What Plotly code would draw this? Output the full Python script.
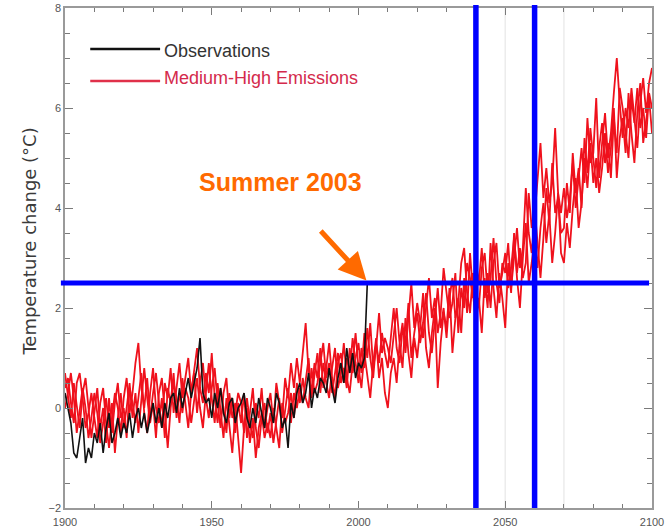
import plotly.graph_objects as go

# ---------------- data ----------------
years_model = list(range(1900, 2101))
years_obs = list(range(1900, 2004))

observations = [
    0.3, 0.0, -0.3, -0.9, -1.0, -0.6, -0.2, -1.1, -0.8, -1.0,
    -0.5, -0.7, -0.3, -0.9, -0.4, -0.1, -0.7, -0.5, -0.2, -0.6,
    -0.3, -0.5, -0.1, -0.6, -0.2, 0.0, -0.4, -0.1, -0.5, -0.2,
    0.1, -0.3, 0.0, -0.4, 0.1, -0.2, 0.2, 0.3, -0.1, 0.4,
    0.0, 0.3, 0.6, 0.2, 0.5, 0.8, 1.4, 0.3, 0.1, 0.2,
    -0.2, 0.3, 0.0, 0.4, -0.1, -0.3, 0.1, 0.2, -0.3, 0.0,
    0.1, 0.3, -0.2, -0.4, 0.0, -0.3, 0.2, -0.1, -0.4, 0.2,
    0.0, -0.3, 0.3, 0.1, -0.4, -0.2, -0.8, 0.1, -0.2, 0.3,
    0.5, 0.1, 0.3, 0.7, 0.0, 0.4, 0.2, 0.6, 0.5, 0.3,
    0.8, 0.4, 0.1, 0.6, 0.9, 0.5, 1.2, 0.7, 1.1, 0.6,
    0.9, 0.8, 1.0, 2.5,
]

run1 = [
    0.4, 0.6, 0.1, -0.3, 0.5, 0.7, 0.2, -0.4, -0.1, 0.3,
    -0.2, -0.6, 0.1, 0.4, -0.3, -0.8, -0.2, 0.3, 0.0, -0.5,
    0.2, 0.6, -0.1, 0.3, 0.9, 1.3, 0.4, 0.0, 0.6, -0.2,
    0.3, 0.7, 0.1, -0.4, 0.5, 0.2, 0.8, -0.1, 0.4, 0.9,
    0.2, 0.6, 1.0, 0.3, 0.8, 1.2, 0.4, 0.1, 0.7, 0.3,
    1.1, 0.2, -0.3, 0.4, 0.0, -0.5, 0.3, -0.2, 0.1, -0.7,
    -1.3, -0.4, 0.2, -0.3, -0.6, 0.1, -0.2, 0.4, -0.4, 0.0,
    0.3, -0.3, 0.5, 0.1, -0.2, 0.6, 0.2, 0.9, 0.4, 1.0,
    0.5, 1.1, 1.7, 0.7, 0.3, 0.9, 0.6, 1.2, 0.4, 0.8,
    1.3, 0.6, 0.2, 0.9, 1.1, 0.5, 1.0, 0.7, 1.4, 0.9,
    0.5, 1.2, 0.8, 1.6, 1.0, 0.6, 1.3, 0.9, 1.5, 1.1,
    0.8, 1.4, 2.0, 1.2, 0.9, 1.6, 1.3, 2.1, 1.0, 1.5,
    1.9, 1.3, 1.7, 2.3, 1.5, 1.1, 1.8, 2.4, 1.6, 2.0,
    1.4, 2.2, 2.6, 1.8, 2.1, 2.9, 3.2, 2.3, 1.9, 2.7,
    2.4, 2.0, 2.8, 3.1, 2.3, 2.6, 3.4, 2.5, 2.1, 2.9,
    2.7, 3.3, 2.4, 3.0, 3.6, 2.8, 3.2, 4.4, 3.5, 3.1,
    3.9, 4.6, 5.3, 4.2, 4.8, 4.1, 4.5, 5.6, 4.3, 3.9,
    4.4, 3.8, 4.2, 4.9, 4.0, 4.6, 5.2, 4.5, 5.8, 4.9,
    5.1, 6.2, 4.6, 5.3, 5.9, 5.0, 5.5, 6.3, 7.0, 6.1,
    5.4, 6.0, 5.6, 6.4, 5.8, 5.2, 6.1, 6.6, 5.9, 6.5,
    6.8,
]

run2 = [
    0.0, 0.3, 0.7, 0.2, -0.5, -0.1, 0.4, 0.0, -0.6, -0.2,
    0.3, -0.1, -0.7, -0.3, 0.2, -0.4, 0.1, -0.9, -0.2, 0.3,
    -0.4, 0.0, 0.5, -0.2, 0.3, -0.5, 0.1, 0.8, 0.2, -0.3,
    0.1, -0.6, 0.3, 0.6, -0.1, -0.8, 0.0, 0.5, 0.2, -0.3,
    0.6, 0.1, -0.4, 0.3, 0.7, -0.1, 0.5, 0.9, 0.2, -0.2,
    0.4, 0.8, 0.1, -0.4, 0.3, 0.6, -0.2, 0.2, -0.5, 0.1,
    -0.3, 0.3, -0.6, -0.1, 0.4, -0.4, -0.8, -0.2, 0.1, -0.5,
    -0.1, -0.7, -0.3, 0.2, -0.5, -0.1, 0.4, -0.3, 0.3, 0.0,
    0.4, 0.1, 0.6, 1.0, 0.2, 0.7, 1.1, 0.3, 0.9, 0.5,
    0.2, 0.8, 1.2, 0.4, 0.7, 1.3, 0.6, 0.3, 0.9, 1.5,
    0.8, 0.4, 1.1, 0.7, 0.2, 0.9, 1.4, 0.6, 1.0, 0.3,
    0.0, 0.7, 1.0, 0.5, 1.3, 0.8, 1.8, 1.1, 0.6, 1.4,
    1.0, 1.6, 2.3, 1.2, 0.8, 1.5, 2.0, 0.4, 1.3, 1.9,
    1.6, 2.4, 1.1, 1.8, 2.2, 1.5, 2.6, 1.9, 3.1, 2.3,
    1.7, 2.2, 1.5, 2.6, 2.0, 3.3, 2.4, 1.8, 2.7, 2.2,
    1.6, 2.9, 2.3, 3.5, 2.6, 2.0, 3.0, 3.7, 2.5, 2.9,
    3.4, 2.8, 3.6, 4.1, 3.3, 3.9, 2.9, 3.5, 4.3, 3.1,
    2.9, 3.7, 3.2, 4.0, 4.6, 3.6, 4.1, 5.0, 4.4, 5.3,
    4.5, 5.0, 4.3, 4.8, 5.5, 4.7, 5.2, 6.0, 4.6, 5.4,
    5.8, 5.1, 6.3, 5.5, 4.9, 5.9, 6.5, 5.3, 5.7, 6.2,
    5.5,
]

run3 = [
    0.7, 0.2, -0.2, 0.5, 0.1, -0.4, 0.3, 0.6, 0.0, -0.6,
    -0.1, 0.4, -0.4, 0.0, -0.7, 0.2, -0.5, 0.1, 0.5, -0.2,
    0.0, -0.6, 0.4, 0.1, -0.3, 0.2, 0.7, -0.1, -0.5, 0.3,
    0.8, 0.0, -0.3, 0.2, -0.6, 0.4, 0.1, 0.7, -0.2, 0.3,
    -0.1, 0.4, 0.2, -0.3, 0.1, 0.6, 0.0, -0.4, 0.3, 0.9,
    0.2, -0.3, 0.5, 0.0, -0.6, 0.2, -0.4, -0.9, -0.1, 0.3,
    0.1, -0.5, 0.0, -0.7, -0.2, -1.0, -0.4, -0.1, -0.6, -0.3,
    -0.6, 0.0, -0.4, -0.8, 0.1, -0.3, -0.1, 0.3, -0.2, 0.5,
    0.1, 0.6, 0.2, 0.0, 0.8, 0.3, 0.5, 0.9, 1.3, 0.6,
    0.9, 0.3, 0.7, 1.1, 0.5, 0.8, 0.4, 1.2, 0.7, 1.0,
    1.3, 0.7, 1.5, 1.0, 1.7, 0.8, 1.2, 1.9, 1.1, 1.4,
    1.2, 0.9, 1.5, 2.0, 1.3, 1.7, 1.1, 1.9, 2.5, 1.6,
    2.1, 1.7, 1.4, 2.0, 2.6, 1.8, 2.2, 1.5, 1.9, 2.8,
    2.3, 1.8, 2.1, 2.7, 1.5, 2.4, 2.0, 2.9, 2.6, 2.2,
    2.9, 2.5, 3.2, 2.2, 2.7, 2.0, 2.9, 3.3, 2.4, 2.7,
    3.1, 2.4, 2.8, 3.4, 2.7, 3.2, 2.6, 2.9, 4.3, 3.6,
    4.0, 3.2, 2.6, 3.4, 4.4, 3.7, 4.9, 3.9, 4.2, 3.5,
    3.6, 4.5, 3.9, 5.1, 4.3, 4.8, 4.0, 5.4, 4.7, 5.6,
    5.0, 4.4, 5.2, 5.7, 4.9, 5.3, 4.6, 5.8, 5.1, 6.4,
    6.0, 5.5, 5.0, 6.2, 5.7, 6.4, 5.6, 6.0, 5.4, 6.3,
    6.0,
]

threshold = 2.5
crossing_years = [2040, 2060]
faint_grid_years = [2050, 2070]
x_ticks = [1900, 1950, 2000, 2050, 2100]
y_ticks = [-2, 0, 2, 4, 6, 8]
legend_labels = ["Observations", "Medium-High Emissions"]
event_label = "Summer 2003"
event_year = 2003
event_value = 2.55

# ---------------- figure ----------------
RED = "#ef111c"
BLUE = "#0000ff"
ORANGE = "#ff6a00"
FONT = "Liberation Sans, Arial, sans-serif"

fig = go.Figure()
for run in (run1, run2, run3):
    fig.add_trace(go.Scatter(x=years_model, y=run, mode="lines",
                             line=dict(color=RED, width=1.8),
                             showlegend=False, hoverinfo="skip"))
fig.add_trace(go.Scatter(x=years_obs, y=observations, mode="lines",
                         line=dict(color="#111111", width=1.6),
                         showlegend=False, hoverinfo="skip"))

shapes = []
for yr in faint_grid_years:
    shapes.append(dict(type="line", xref="x", yref="paper", x0=yr, x1=yr, y0=0, y1=1,
                       line=dict(color="#ececec", width=1.5), layer="below"))
# threshold line
shapes.append(dict(type="line", xref="paper", yref="y", x0=-0.007, x1=0.995,
                   y0=threshold, y1=threshold, line=dict(color=BLUE, width=5)))
for yr in crossing_years:
    shapes.append(dict(type="line", xref="x", yref="paper", x0=yr, x1=yr,
                       y0=0, y1=1.006, line=dict(color=BLUE, width=5.5)))
# legend samples
shapes.append(dict(type="line", xref="paper", yref="paper", x0=0.043, x1=0.162,
                   y0=0.918, y1=0.918, line=dict(color="#111111", width=2.5)))
shapes.append(dict(type="line", xref="paper", yref="paper", x0=0.043, x1=0.162,
                   y0=0.854, y1=0.854, line=dict(color="#e0304a", width=2.5)))

annotations = [
    dict(xref="paper", yref="paper", x=0.165, y=0.913, xanchor="left", yanchor="middle",
         text=legend_labels[0], showarrow=False,
         font=dict(family=FONT, size=18, color="#333333")),
    dict(xref="paper", yref="paper", x=0.165, y=0.861, xanchor="left", yanchor="middle",
         text=legend_labels[1], showarrow=False,
         font=dict(family=FONT, size=18, color="#d42a4c")),
    dict(xref="paper", yref="paper", x=-0.062, y=0.532, xanchor="center", yanchor="middle",
         text="Temperature change (°C)", textangle=-90, showarrow=False,
         font=dict(family="DejaVu Sans, Verdana, sans-serif", size=18, color="#3a3a3a")),
    dict(xref="x", yref="y", x=1973.3, y=4.52, xanchor="center", yanchor="middle",
         text="<b>" + event_label + "</b>", showarrow=False,
         font=dict(family=FONT, size=25, color=ORANGE)),
    dict(xref="x", yref="y", x=event_year - 0.3, y=event_value, text="", showarrow=True,
         ax=-47, ay=-51, arrowhead=2, arrowsize=1.1, arrowwidth=5, arrowcolor=ORANGE,
         standoff=0),
]

axis_common = dict(showgrid=False, zeroline=False, mirror="ticks", showline=True,
                   linecolor="#9a9a9a", linewidth=1.5, ticks="inside",
                   tickcolor="#7a7a7a", tickwidth=1.2, automargin=False,
                   tickfont=dict(family=FONT, size=11, color="#555555"))

fig.update_xaxes(range=[1900, 2100], tickvals=x_ticks, ticklen=7, ticklabelstandoff=3,
                 minor=dict(dtick=10, ticks="inside", ticklen=4, tickcolor="#7a7a7a", showgrid=False),
                 **axis_common)
fig.update_yaxes(range=[-2, 8], tickvals=y_ticks, ticklen=8,
                 minor=dict(dtick=0.5, ticks="inside", ticklen=5, tickcolor="#7a7a7a", showgrid=False),
                 **axis_common)

fig.update_layout(width=668, height=527, margin=dict(l=65, r=16, t=8, b=19),
                  paper_bgcolor="white", plot_bgcolor="white",
                  shapes=shapes, annotations=annotations, showlegend=False)

fig.write_html("out.html", config={"displayModeBar": False},
               post_script="document.body.style.margin='0';document.body.style.overflow='hidden';")
